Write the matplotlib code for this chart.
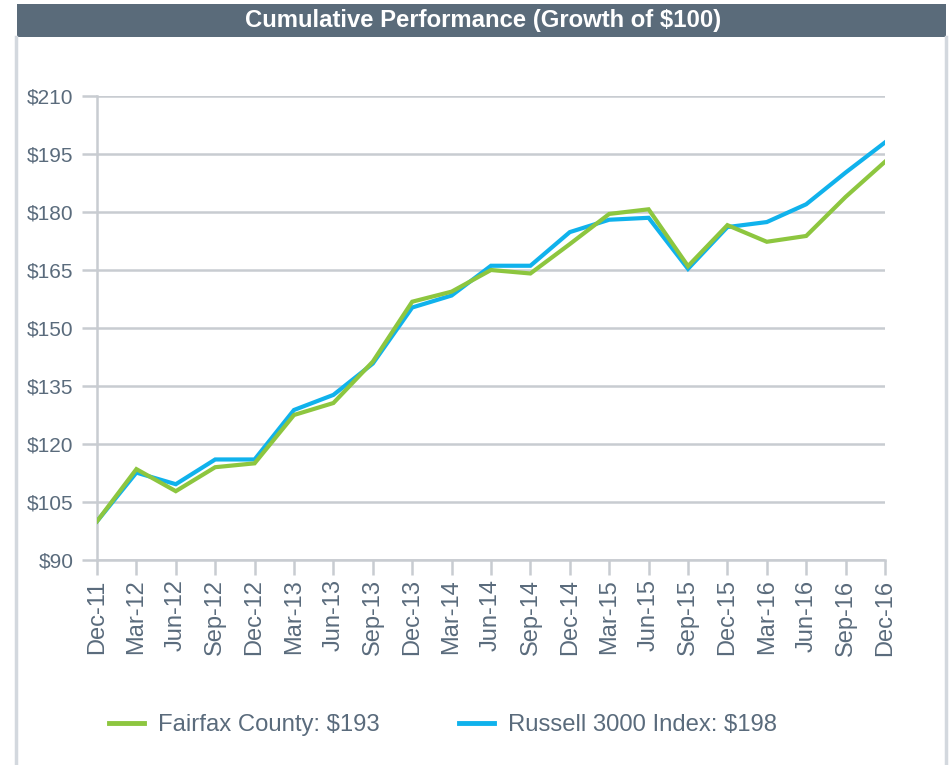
import matplotlib
matplotlib.use("Agg")
import matplotlib.pyplot as plt
from matplotlib.patches import Rectangle
from matplotlib.lines import Line2D

plt.rcParams['font.family'] = ['Liberation Sans', 'DejaVu Sans']

# quarter-end labels
quarters = ["Dec-11", "Mar-12", "Jun-12", "Sep-12", "Dec-12", "Mar-13", "Jun-13",
            "Sep-13", "Dec-13", "Mar-14", "Jun-14", "Sep-14", "Dec-14", "Mar-15",
            "Jun-15", "Sep-15", "Dec-15", "Mar-16", "Jun-16", "Sep-16", "Dec-16"]

# growth of $100
fairfax = [100.0, 113.5, 107.8, 114.0, 115.0, 127.5, 130.6, 141.3, 156.8, 159.4,
           165.0, 164.1, 171.7, 179.5, 180.7, 166.0, 176.6, 172.3, 173.8, 183.9, 193.0]
russell = [100.0, 112.6, 109.6, 116.0, 116.0, 128.8, 132.7, 140.8, 155.3, 158.4,
           166.1, 166.1, 174.8, 178.0, 178.5, 165.3, 176.1, 177.4, 182.0, 190.2, 198.0]

yticks = [90, 105, 120, 135, 150, 165, 180, 195, 210]

green = '#8dc63f'
blue = '#10b2ec'
text_col = '#5a6b7c'
grid_col = '#c8ccd1'

fig = plt.figure(figsize=(9.53, 7.65), dpi=100)

# title banner and side rules
fig.patches.append(Rectangle((17 / 953, 1 - 37 / 765), (946 - 17) / 953, 33 / 765,
                             transform=fig.transFigure, facecolor='#5a6b7a',
                             edgecolor='none'))
fig.text(483 / 953, 1 - 20 / 765, "Cumulative Performance (Growth of $100)",
         color='white', fontsize=17.2, fontweight='bold', ha='center', va='center')
for xpix in (16, 946):
    fig.add_artist(Line2D([xpix / 953, xpix / 953], [0, 1 - 37 / 765],
                          transform=fig.transFigure, color='#d3d8de', lw=2.5))

ax = fig.add_axes([97 / 953, 1 - 560 / 765, (885 - 97) / 953, (560 - 96) / 765])
x = list(range(len(quarters)))

ax.plot(x, russell, color=blue, lw=3, solid_joinstyle='miter', zorder=3)
ax.plot(x, fairfax, color=green, lw=3, solid_joinstyle='miter', zorder=4)

ax.set_xlim(0, len(quarters) - 1)
ax.set_ylim(90, 210)
ax.set_yticks(yticks)
ax.set_yticklabels([f"${v}" for v in yticks])
ax.set_xticks(x)
ax.set_xticklabels(quarters, rotation=90)

ax.grid(axis='y', color=grid_col, lw=1.8)
ax.set_axisbelow(True)
for side in ('top', 'right'):
    ax.spines[side].set_visible(False)
for side in ('left', 'bottom'):
    ax.spines[side].set_color(grid_col)
    ax.spines[side].set_linewidth(1.8)
ax.tick_params(axis='both', colors=grid_col, width=1.8, length=11,
               labelcolor=text_col, labelsize=15)
ax.tick_params(axis='x', pad=3, labelsize=17)
ax.tick_params(axis='y', pad=6)

handles = [Line2D([], [], color=green, lw=3.5), Line2D([], [], color=blue, lw=3.5)]
fig.legend(handles, ["Fairfax County: $193", "Russell 3000 Index: $198"],
           loc='center left', bbox_to_anchor=(88 / 953, 1 - 725 / 765), ncol=2,
           frameon=False, fontsize=17.2, labelcolor=text_col, handlelength=1.45,
           handletextpad=0.6, columnspacing=3.3)

fig.savefig("out.png", dpi=100)
